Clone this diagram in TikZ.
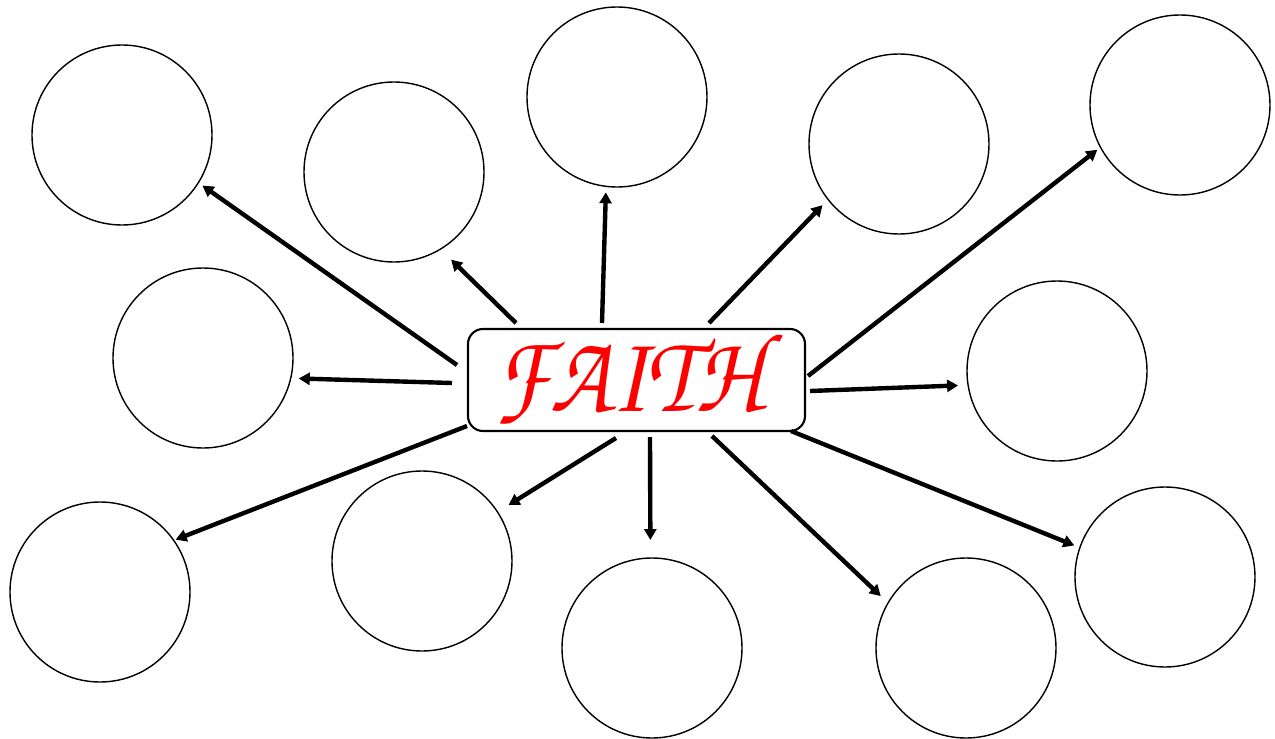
\documentclass[tikz,border=0pt]{standalone}
\usepackage[T1,TU]{fontenc}
\usepackage{tikz}
\usetikzlibrary{arrows.meta}
\usepackage{xcolor}

\tikzset{
  idea/.style={circle,draw=black,line width=0.4pt,minimum size=1.8cm,inner sep=0pt,outer sep=0pt},
  hubbox/.style={draw=black,line width=0.6pt,rounded corners=0.15cm,fill=white,
    minimum width=3.37cm,minimum height=1.02cm,inner sep=0pt,outer sep=0pt},
  spoke/.style={->,line width=1.25pt}
}

\begin{document}
\begin{tikzpicture}[>={Triangle[length=0.11cm,width=0.12cm]},line cap=butt]
\useasboundingbox (0,0) rectangle (12.75,7.38);
% circles round the hub
\node[idea] (c1) at (1.22,6.03) {};
\node[idea] (c2) at (3.94,5.66) {};
\node[idea] (c3) at (6.17,6.41) {};
\node[idea] (c4) at (8.99,5.94) {};
\node[idea] (c5) at (11.80,6.33) {};
\node[idea] (c6) at (2.03,3.80) {};
\node[idea] (c7) at (10.57,3.67) {};
\node[idea] (c8) at (1.00,1.46) {};
\node[idea] (c9) at (4.22,1.77) {};
\node[idea] (c10) at (6.52,0.90) {};
\node[idea] (c11) at (9.66,0.90) {};
\node[idea] (c12) at (11.65,1.61) {};
% hub
\node[hubbox] (hub) at (6.365,3.58) {};
\node[text=red,xscale=0.86,font={\fontencoding{T1}\fontfamily{pzc}\fontseries{m}\fontshape{it}\fontsize{32}{32}\selectfont}] (word) at ([xshift=-0.09cm,yshift=0.01cm]hub.center) {FAITH};
% spokes
\draw[spoke,shorten >=0.05cm] ([shift={(-1.795,0.15)}]hub.center) -- (c1.-32);
\draw[spoke,shorten >=0.15cm] ([shift={(-1.205,0.57)}]hub.center) -- (c2.-59);
\draw[spoke,shorten >=0.06cm] ([shift={(-0.345,0.57)}]hub.center) -- (c3.-97);
\draw[spoke,shorten >=0.08cm] ([shift={(0.725,0.57)}]hub.center) -- (c4.-142);
\draw[spoke,shorten >=0.04cm] ([shift={(1.715,0.04)}]hub.center) -- (c5.-152);
\draw[spoke,shorten >=0.08cm] ([shift={(-1.845,-0.03)}]hub.center) -- (c6.-13);
\draw[spoke,shorten >=0.10cm] ([shift={(1.735,-0.11)}]hub.center) -- (c7.-171);
\draw[spoke,shorten >=0.02cm] ([shift={(-1.695,-0.46)}]hub.center) -- (c8.35);
\draw[spoke,shorten >=0.13cm] ([shift={(-0.205,-0.58)}]hub.center) -- (c9.33);
\draw[spoke,shorten >=0.18cm] ([shift={(0.135,-0.57)}]hub.center) -- (c10.91);
\draw[spoke,shorten >=0.10cm] ([shift={(0.755,-0.56)}]hub.center) -- (c11.150);
\draw[spoke,shorten >=0.06cm] ([shift={(1.545,-0.51)}]hub.center) -- (c12.161);
\end{tikzpicture}
\end{document}
